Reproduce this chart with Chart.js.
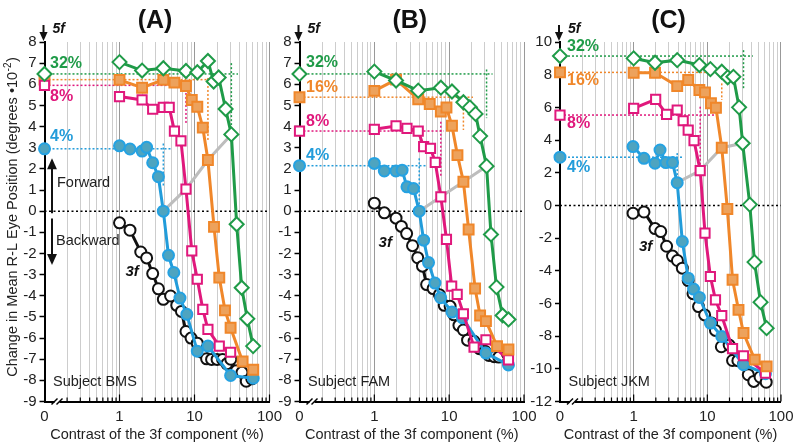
<!DOCTYPE html>
<html><head><meta charset="utf-8">
<script src="https://cdn.jsdelivr.net/npm/chart.js@4.4.1/dist/chart.umd.min.js"></script>
<style>
html,body{margin:0;padding:0;background:#fff;}
#wrap{position:relative;width:800px;height:448px;overflow:hidden;}
canvas{position:absolute;left:0;top:0;}
</style></head><body>
<div id="wrap">
<canvas id="cA" width="800" height="448"></canvas>
<canvas id="cB" width="800" height="448"></canvas>
<canvas id="cC" width="800" height="448"></canvas>
</div>
<script>
// ---------- shared axis values ----------
const xGridVals = [0.1,0.2,0.3,0.4,0.5,0.6,0.7,0.8,0.9,1,2,3,4,5,6,7,8,9,10,20,30,40,50,60,70,80,90,100];
const xTickVals = [0.1, 1, 10, 100];
const xTickText = ['0', '1', '10', '100'];
const seriesNames = ['32%', '16%', '8%', '4%'];

// ---------- Panel A (Subject BMS) ----------
const A_x3f = [1,1.38,1.92,2.3,2.77,3.3,3.84,4.8,5.8,6.7,7.7,9.0,10.9,12.5,14.5,16.9,20,23.7,27,30.5,36,43,49,58];
const A_y3f = [-0.55,-0.9,-1.93,-2.21,-2.95,-3.67,-4.17,-4.01,-4.45,-4.74,-5.69,-6.0,-6.24,-6.67,-6.98,-7.01,-7.01,-7.01,-7.22,-7.0,-7.55,-7.62,-8.04,-7.93];
const A_x4 = [1,1.38,2,2.3,2.77,3.3,3.84,4.5,5.3,6.4,7.9,10.9,15.1,30.3,60.7];
const A_y4 = [3.09,2.94,2.84,3.02,2.29,1.63,0.0,-2.09,-2.9,-4.11,-4.88,-6.62,-6.38,-7.77,-7.9];
const A_x8 = [1,2,2.77,3.84,4.6,5.4,6.6,7.7,9.2,10.9,12.9,15.1,21.4,30.3];
const A_y8 = [5.42,5.26,4.82,4.91,4.91,3.79,3.32,1.04,-1.88,-3.22,-4.64,-5.59,-6.38,-6.67];
const A_x16 = [1,2,3.84,5.4,7.7,9.2,10.9,12.9,15.1,18.2,21.4,25.5,30.3,43.8,60.7];
const A_y16 = [6.21,5.84,6.21,6.08,5.92,5.26,4.94,3.95,2.42,-0.74,-3.14,-4.69,-5.51,-7.11,-7.5];
const A_x32 = [1,2,3.84,7.7,10.9,15.1,18,21,26,31,36.5,42.6,50.6,60.5];
const A_y32 = [7.05,6.65,6.76,6.63,6.57,7.1,6.13,6.32,4.83,3.63,-0.62,-3.62,-5.09,-6.38];
const A_alone5f = [6.49, 6.22, 5.95, 2.95];           // 32,16,8,4 %
const A_threshX = [3.84, 7.7, 15.1, 31];
const A_threshY = [0, 1.04, 2.42, 3.63];
const A_refHEnd = [38, 16.5, 8.3, 4.8];
const A_refVX = [31, 15.1, 7.7, 3.84];
const A_refVTop = [7.0, 6.3, 5.97, 3.2];
const A_refVBot = [3.7, 3.36, 4.15, 1.15];

// ---------- Panel B (Subject FAM) ----------
const B_x3f = [1,1.36,1.95,2.3,2.7,3.24,3.8,4.4,5.0,6.1,7.4,8.6,10.3,11.6,13.5,15.5,17.6,21.5,25.4,30,34,40,46,60];
const B_y3f = [0.38,-0.08,-0.33,-0.72,-1.06,-1.63,-2.2,-2.6,-3.47,-3.66,-3.95,-4.45,-4.5,-4.9,-5.4,-5.62,-6.1,-6.15,-6.5,-6.62,-6.82,-6.88,-6.9,-6.75];
const B_x4 = [1,1.36,1.94,2.35,2.73,3.34,3.98,4.56,5.3,6.46,7.7,10.9,15,31,62];
const B_y4 = [2.26,1.9,1.9,1.94,1.15,1.07,0.0,-1.37,-2.43,-3.4,-4.09,-4.77,-5.04,-6.71,-7.27];
const B_x8 = [1,1.95,2.73,3.86,4.56,5.63,6.52,7.74,9.2,10.8,12.8,15.5,21.5,31,62];
const B_y8 = [3.87,4.03,3.92,3.79,3.05,2.97,2.31,0.68,-1.33,-3.54,-3.93,-4.85,-6.43,-6.08,-7.03];
const B_x16 = [1,1.95,3.86,5.5,7.74,9.2,10.9,12.9,15.5,18.2,22.2,25.9,31,43.6,62];
const B_y16 = [5.69,6.22,5.29,5.07,4.71,4.9,4.04,2.65,1.39,-0.87,-3.66,-4.93,-5.2,-6.38,-6.54];
const B_x32 = [1,1.95,3.86,7.74,10.9,15.5,18.9,22.5,25.9,31.6,36.2,42.9,51.8,62.1];
const B_y32 = [6.6,6.18,5.7,5.84,5.66,5.15,4.91,4.6,3.55,2.13,-1.1,-3.59,-4.93,-5.12];
const B_alone5f = [6.49, 5.39, 3.79, 2.15];
const B_threshX = [3.98, 7.74, 15.5, 31.6];
const B_threshY = [0, 0.68, 1.39, 2.13];
const B_refHEnd = [38, 20.8, 8.5, 5.0];
const B_refVX = [31.6, 15.5, 7.74, 3.98];
const B_refVTop = [6.7, 5.42, 4.23, 2.5];
const B_refVBot = [4.4, 3.84, 1.63, 0.13];

// ---------- Panel C (Subject JKM) ----------
const C_x3f = [0.98,1.38,1.95,2.33,2.8,3.37,3.93,4.58,5.5,6.4,7.6,9.2,11.4,12.9,15.5,19.8,22,26,31,36,42.7,52,63];
const C_y3f = [-0.48,-0.4,-1.42,-1.6,-2.5,-3.1,-3.37,-3.84,-4.6,-5.4,-6.19,-6.7,-7.2,-7.65,-8.65,-8.55,-9.49,-9.5,-9.7,-10.36,-10.77,-10.5,-10.82];
const C_x4 = [0.98,1.38,1.95,2.28,2.74,3.37,3.9,4.58,5.5,6.5,7.8,11,15.7,31,61.5];
const C_y4 = [3.6,2.88,2.58,3.39,2.62,2.62,1.39,-2.21,-4.45,-5.12,-5.63,-7.2,-8.02,-9.75,-10.3];
const C_x8 = [1,1.99,2.8,3.9,4.7,5.5,6.6,8.0,9.3,11,12.9,15.7,22,31,61.5];
const C_y8 = [5.94,6.49,5.57,5.84,5.18,4.61,3.96,2.13,-1.7,-4.35,-5.78,-6.75,-8.77,-9.2,-10.26];
const C_x16 = [1,1.95,3.9,5.5,7.8,9.3,11.2,13.1,15.7,18.7,22,26.5,31,44,63.8];
const C_y16 = [8.12,8.12,7.3,7.67,7.06,6.92,6.25,5.98,3.53,-0.22,-4.55,-6.39,-7.81,-9.44,-9.85];
const C_x32 = [1,1.95,3.9,7.8,11,15.7,18.9,22.6,27,30.2,37.7,43.7,52.8,63.8];
const C_y32 = [9.0,8.73,8.89,8.59,8.34,8.18,7.84,7.87,6.0,3.8,0.05,-3.47,-5.92,-7.51];
const C_alone5f = [9.14, 8.14, 5.53, 2.95];
const C_threshX = [3.9, 8.0, 15.7, 30.2];
const C_threshY = [1.39, 2.13, 3.53, 3.8];
const C_refHEnd = [41.5, 9.6, 13.1, 4.7];
const C_refVX = [31, 15.7, 8.0, 3.9];
const C_refVTop = [9.5, 7.47, 6.04, 3.2];
const C_refVBot = [7.06, 6.45, 2.37, 1.37];

// ---------- styling ----------
const FONT = 'Arial, "Liberation Sans", sans-serif';
Chart.defaults.font.family = FONT;
const TXT = '#222';
const COLS = ['#1f9b48', '#f0872a', '#e0187c', '#229cda']; // 32,16,8,4
const POINT = [
  {pointStyle:'rectRot', pointRadius:7, pointBackgroundColor:'#fff', pointBorderColor:'#1f9b48'},
  {pointStyle:'rect', pointRadius:7, pointBackgroundColor:'#eda25c', pointBorderColor:'#f0872a'},
  {pointStyle:'rect', pointRadius:6.5, pointBackgroundColor:'#fff', pointBorderColor:'#e0187c'},
  {pointStyle:'circle', pointRadius:5.5, pointBackgroundColor:'#4ea4c0', pointBorderColor:'#25a2e2'}
];
const POINT3F = {pointStyle:'circle', pointRadius:5.5, pointBackgroundColor:'#fff', pointBorderColor:'#111'};

function pts(xs, ys) { return xs.map((x, i) => ({x: x, y: ys[i]})); }

function buildDatasets(P) {
  const top = [];
  const base = {fill:false, tension:0, clip:false, pointHoverRadius:0, pointBorderWidth:2};
  // 5f-alone points on the axis (order: green, magenta, blue, orange from top)
  [0, 2, 3, 1].forEach(i => {
    top.push(Object.assign({}, base, POINT[i], {data:[{x:0.1, y:P.alone[i]}], showLine:false}));
  });
  const series = [[P.x32,P.y32],[P.x16,P.y16],[P.x8,P.y8],[P.x4,P.y4]];
  series.forEach((s, i) => {
    top.push(Object.assign({}, base, POINT[i], {data:pts(s[0], s[1]), borderColor:COLS[i], borderWidth:3}));
  });
  top.push(Object.assign({}, base, POINT3F, {data:pts(P.x3f, P.y3f), borderColor:'#111', borderWidth:3}));
  top.push(Object.assign({}, base, {data:pts(P.thrX, P.thrY), borderColor:'#bdbdbd', borderWidth:3, pointRadius:0}));
  for (let i = 0; i < 4; i++) {
    top.push(Object.assign({}, base, {data:[{x:0.1, y:P.alone[i]},{x:P.hEnd[i], y:P.alone[i]}],
      borderColor:COLS[i], borderWidth:1.5, borderDash:[2,2], pointRadius:0}));
    top.push(Object.assign({}, base, {data:[{x:P.vX[i], y:P.vTop[i]},{x:P.vX[i], y:P.vBot[i]}],
      borderColor:COLS[i], borderWidth:1.5, borderDash:[2,2], pointRadius:0}));
  }
  return top;
}

function arrow(ctx, x, y1, y2, head) {
  const dir = y2 > y1 ? 1 : -1;
  ctx.beginPath(); ctx.moveTo(x, y1); ctx.lineTo(x, y2 - dir*head*0.8); ctx.stroke();
  ctx.beginPath(); ctx.moveTo(x, y2); ctx.lineTo(x - head*0.45, y2 - dir*head); ctx.lineTo(x + head*0.45, y2 - dir*head); ctx.closePath(); ctx.fill();
}

function annotPlugin(P) {
  return {
    id: 'annot' + P.id,
    beforeDatasetsDraw(chart) {
      const {ctx, chartArea:a, scales:{y}} = chart;
      ctx.save();
      ctx.strokeStyle = '#000'; ctx.lineWidth = 1.5; ctx.setLineDash([2, 2.5]);
      const y0 = y.getPixelForValue(0);
      ctx.beginPath(); ctx.moveTo(a.left, y0); ctx.lineTo(a.right, y0); ctx.stroke();
      ctx.restore();
    },
    afterDraw(chart) {
      const {ctx, chartArea:a, scales:{x, y}} = chart;
      ctx.save();
      // inward tick marks on the x axis
      ctx.strokeStyle = '#000'; ctx.lineWidth = 1.2;
      xGridVals.forEach(v => {
        if (v === 0.1) return;
        const px = x.getPixelForValue(v);
        const L = xTickVals.includes(v) ? 7 : 4;
        ctx.beginPath(); ctx.moveTo(px, a.bottom); ctx.lineTo(px, a.bottom - L); ctx.stroke();
      });
      // axis break
      ctx.fillStyle = '#fff'; ctx.fillRect(a.left + 10, a.bottom - 2, 5, 4);
      ctx.strokeStyle = '#000'; ctx.lineWidth = 1.4;
      [a.left + 10, a.left + 15].forEach(bx => {
        ctx.beginPath(); ctx.moveTo(bx - 3, a.bottom + 3); ctx.lineTo(bx + 3, a.bottom - 3); ctx.stroke();
      });
      // 5f arrow
      ctx.fillStyle = '#111'; ctx.strokeStyle = '#111'; ctx.lineWidth = 2;
      arrow(ctx, a.left - 1, 25, 41, 9);
      ctx.font = 'italic bold 14px ' + FONT; ctx.textAlign = 'left'; ctx.textBaseline = 'middle';
      ctx.fillText('5f', a.left + 8, 29);
      // panel title
      ctx.font = 'bold 25px ' + FONT; ctx.textAlign = 'center';
      ctx.fillText(P.name, (a.left + a.right)/2 - 2, 21);
      // x title
      ctx.font = '14.5px ' + FONT; ctx.fillStyle = TXT;
      ctx.fillText('Contrast of the 3f component (%)', (a.left + a.right)/2, 435);
      // subject
      ctx.textAlign = 'left';
      ctx.fillText(P.subject, a.left + 8.5, 382);
      // 3f label
      ctx.font = 'italic bold 15px ' + FONT; ctx.textAlign = 'center'; ctx.fillStyle = '#111';
      ctx.fillText('3f', x.getPixelForValue(P.lab3f[0]), y.getPixelForValue(P.lab3f[1]));
      // percentage labels
      ctx.font = 'bold 16px ' + FONT; ctx.textAlign = 'left';
      P.pct.forEach(p => {
        ctx.fillStyle = COLS[p[0]];
        ctx.fillText(seriesNames[p[0]], a.left + P.pctDx, y.getPixelForValue(P.alone[p[0]]) + p[1]);
      });
      if (P.fwd) {
        ctx.fillStyle = '#111'; ctx.strokeStyle = '#111'; ctx.lineWidth = 2;
        const ax = a.left + 7.5;
        arrow(ctx, ax, y.getPixelForValue(-0.1), y.getPixelForValue(2.5), 11);
        arrow(ctx, ax, y.getPixelForValue(-0.35), y.getPixelForValue(-2.55), 11);
        ctx.font = '14.5px ' + FONT; ctx.fillStyle = TXT; ctx.textAlign = 'left';
        ctx.fillText('Forward', a.left + 12.5, y.getPixelForValue(1.33));
        ctx.fillText('Backward', a.left + 11.5, y.getPixelForValue(-1.42));
      }
      if (P.ytitle) {
        ctx.translate(13, 217.5); ctx.rotate(-Math.PI/2);
        const f = '14.5px ' + FONT, fs = '10px ' + FONT;
        const t1 = 'Change in Mean R-L Eye Position (degrees \u202210', t2 = '-2', t3 = ')';
        ctx.font = f; const w1 = ctx.measureText(t1).width, w3 = ctx.measureText(t3).width;
        ctx.font = fs; const w2 = ctx.measureText(t2).width;
        const x0 = -(w1 + w2 + w3)/2;
        ctx.fillStyle = TXT; ctx.textBaseline = 'middle'; ctx.textAlign = 'left';
        ctx.font = f; ctx.fillText(t1, x0, 0);
        ctx.font = fs; ctx.fillText(t2, x0 + w1 + 0.5, -5);
        ctx.font = f; ctx.fillText(t3, x0 + w1 + w2 + 1, 0);
      }
      ctx.restore();
    }
  };
}

function makePanel(P) {
  new Chart(document.getElementById(P.id), {
    type: 'line',
    data: {datasets: buildDatasets(P)},
    options: {
      responsive: false, animation: false, events: [],
      layout: {padding: {left: P.padL, right: P.padR, top: 42, bottom: 0}},
      plugins: {legend: {display:false}, tooltip: {enabled:false}},
      scales: {
        x: {
          type: 'logarithmic', min: 0.1, max: 100,
          afterBuildTicks: s => { s.ticks = xGridVals.map(v => ({value: v})); },
          afterFit: s => { s.height = 46.5; },
          ticks: {autoSkip:false, maxRotation:0, minRotation:0, padding:6.5, color:TXT,
            font:{size:15, family:FONT},
            callback: v => { const k = xTickVals.indexOf(v); return k >= 0 ? xTickText[k] : ''; }},
          grid: {drawTicks:false, lineWidth:1,
            color: c => { const v = c.tick ? c.tick.value : 0;
              if (v === 0.1) return 'rgba(0,0,0,0)';
              return xTickVals.includes(v) ? '#999' : '#cdcdcd'; }},
          border: {display:true, color:'#000', width:2}
        },
        y: {
          type: 'linear', min: P.yMin, max: P.yMax,
          afterFit: s => { s.width = P.yW; },
          ticks: {stepSize:P.yStep, padding:3, color:TXT, font:{size:15, family:FONT}},
          grid: {drawOnChartArea:false, drawTicks:true, tickLength:5, tickColor:'#000', tickWidth:1.5},
          border: {display:true, color:'#000', width:2}
        }
      }
    },
    plugins: [annotPlugin(P)]
  });
}

makePanel({id:'cA', name:'(A)', subject:'Subject BMS', yMin:-9, yMax:8, yStep:1, padL:0, yW:44.5, padR:530.5,
  x3f:A_x3f, y3f:A_y3f, x4:A_x4, y4:A_y4, x8:A_x8, y8:A_y8, x16:A_x16, y16:A_y16, x32:A_x32, y32:A_y32,
  alone:A_alone5f, thrX:A_threshX, thrY:A_threshY, hEnd:A_refHEnd, vX:A_refVX, vTop:A_refVTop, vBot:A_refVBot,
  pct:[[0,-10],[2,11.5],[3,-12]], pctDx:5.5, lab3f:[1.47,-2.89], fwd:true, ytitle:true});
makePanel({id:'cB', name:'(B)', subject:'Subject FAM', yMin:-9, yMax:8, yStep:1, padL:269.5, yW:30, padR:276,
  x3f:B_x3f, y3f:B_y3f, x4:B_x4, y4:B_y4, x8:B_x8, y8:B_y8, x16:B_x16, y16:B_y16, x32:B_x32, y32:B_y32,
  alone:B_alone5f, thrX:B_threshX, thrY:B_threshY, hEnd:B_refHEnd, vX:B_refVX, vTop:B_refVTop, vBot:B_refVBot,
  pct:[[0,-11],[1,-10],[2,-9],[3,-10.6]], pctDx:6.5, lab3f:[1.4,-1.52], fwd:false, ytitle:false});
makePanel({id:'cC', name:'(C)', subject:'Subject JKM', yMin:-12, yMax:10, yStep:2, padL:530, yW:30, padR:17,
  x3f:C_x3f, y3f:C_y3f, x4:C_x4, y4:C_y4, x8:C_x8, y8:C_y8, x16:C_x16, y16:C_y16, x32:C_x32, y32:C_y32,
  alone:C_alone5f, thrX:C_threshX, thrY:C_threshY, hEnd:C_refHEnd, vX:C_refVX, vTop:C_refVTop, vBot:C_refVBot,
  pct:[[0,-9],[1,8],[2,9],[3,10]], pctDx:7, lab3f:[1.45,-2.54], fwd:false, ytitle:false});
</script></body></html>
